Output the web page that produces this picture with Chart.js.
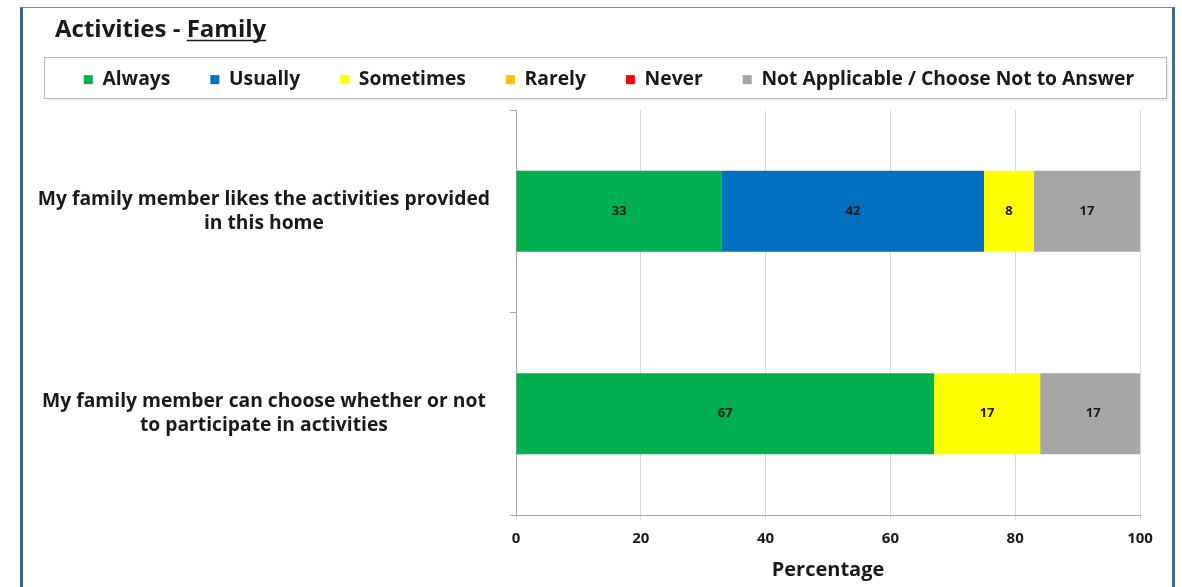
<!DOCTYPE html>
<html>
<head>
<meta charset="utf-8">
<script src="https://cdn.jsdelivr.net/npm/chart.js@4.4.1/dist/chart.umd.min.js"></script>
<style>
  html, body { margin: 0; padding: 0; background: #ffffff; }
  #wrap { position: relative; width: 1182px; height: 587px; overflow: hidden; }
  #c { position: absolute; left: 0; top: 0; }
  #frame { position: absolute; left: 20px; top: 7px; width: 1149px; height: 600px;
           border-left: 3px solid #3f5f8f; border-top: 1px solid #7088aa; border-right: 3px solid #4a6894;
           pointer-events: none; }
</style>
</head>
<body>
<div id="wrap">
  <canvas id="c" width="1182" height="587"></canvas>
  <div id="frame"></div>
</div>
<script>
// Survey statements (one bar each)
const categories = [
  ["My family member likes the activities provided", "in this home"],
  ["My family member can choose whether or not", "to participate in activities"]
];
// Response options, in stacking order
const seriesNames = ["Always", "Usually", "Sometimes", "Rarely", "Never", "Not Applicable / Choose Not to Answer"];
// Percentage of responses per statement
const always        = [33, 67];
const usually       = [42, 0];
const sometimes     = [8, 17];
const rarely        = [0, 0];
const never         = [0, 0];
const notApplicable = [17, 17];
const seriesColors  = ["#00b050", "#0070c0", "#ffff00", "#ffc000", "#ff0000", "#a6a6a6"];
// Axis ticks and titles
const xTicks = [0, 20, 40, 60, 80, 100];
const titleLead = "Activities - ";
const titleUnderlined = "Family";
const xTitle = "Percentage";

const FONT = "'Open Sans', Lato, sans-serif";
const INK = '#1a1a1a';
const seriesValues = [always, usually, sometimes, rarely, never, notApplicable];

// Title with underlined subject, plus the frame around the legend row
const headerPlugin = {
  id: 'header',
  beforeDraw(chart) {
    const ctx = chart.ctx;
    ctx.save();
    ctx.fillStyle = 'rgba(0,0,0,0.05)';
    ctx.fillRect(46, 59, 1123, 42);
    ctx.fillStyle = '#ffffff';
    ctx.fillRect(44, 57, 1123, 42);
    ctx.strokeStyle = '#b9b9b9';
    ctx.lineWidth = 1;
    ctx.strokeRect(44.5, 57.5, 1122, 41);
    ctx.restore();
  },
  afterDraw(chart) {
    const ctx = chart.ctx;
    ctx.save();
    ctx.font = `bold 24px ${FONT}`;
    ctx.fillStyle = INK;
    ctx.textBaseline = 'alphabetic';
    const x0 = 55, y0 = 37;
    ctx.fillText(titleLead, x0, y0);
    const w0 = ctx.measureText(titleLead).width;
    ctx.fillText(titleUnderlined, x0 + w0, y0);
    const w1 = ctx.measureText(titleUnderlined).width;
    ctx.strokeStyle = INK;
    ctx.lineWidth = 1.5;
    ctx.beginPath();
    ctx.moveTo(x0 + w0, y0 + 3.5);
    ctx.lineTo(x0 + w0 + w1, y0 + 3.5);
    ctx.stroke();
    ctx.restore();
  }
};

// Value printed in the middle of each segment
const valuePlugin = {
  id: 'segmentValues',
  afterDatasetsDraw(chart) {
    const ctx = chart.ctx;
    ctx.save();
    ctx.font = `bold 13px ${FONT}`;
    ctx.fillStyle = INK;
    ctx.textAlign = 'center';
    ctx.textBaseline = 'middle';
    chart.data.datasets.forEach((ds, i) => {
      const meta = chart.getDatasetMeta(i);
      meta.data.forEach((bar, j) => {
        const v = ds.data[j];
        if (!v) return;
        const p = bar.getCenterPoint();
        ctx.fillText(String(v), p.x, p.y);
      });
    });
    ctx.restore();
  }
};

// Legend: one row in a fixed band above the plot, centred on the legend frame
const LEGEND_CENTER = 609;
const legendBandPlugin = {
  id: 'legendBand',
  afterInit(chart) {
    const lg = chart.legend;
    const fit = lg.fit;
    lg.fit = function () {
      const mw = this.maxWidth;
      this.maxWidth = 4000;
      fit.call(this);
      this.maxWidth = mw;
      this.width = mw;
      this.height = 80;
    };
  },
  afterLayout(chart) {
    const lg = chart.legend;
    lg.left = LEGEND_CENTER - 700;
    lg.right = LEGEND_CENTER + 700;
    lg.width = 1400;
  }
};

const ctx = document.getElementById('c').getContext('2d');
new Chart(ctx, {
  type: 'bar',
  data: {
    labels: categories,
    datasets: seriesNames.map((name, i) => ({
      label: name,
      data: seriesValues[i],
      backgroundColor: seriesColors[i],
      borderWidth: 0,
      categoryPercentage: 0.4,
      barPercentage: 1.0
    }))
  },
  options: {
    indexAxis: 'y',
    responsive: false,
    animation: false,
    devicePixelRatio: 1,
    layout: { padding: { top: 30, left: 20, right: 42, bottom: 0 } },
    plugins: {
      title: { display: false },
      tooltip: { enabled: false },
      legend: {
        position: 'top',
        align: 'center',
        labels: {
          boxWidth: 9,
          boxHeight: 9,
          padding: 40,
          color: INK,
          font: { family: FONT, size: 19.3, weight: 'bold' }
        }
      }
    },
    scales: {
      x: {
        stacked: true,
        min: 0,
        max: 100,
        afterBuildTicks: s => { s.ticks = xTicks.map(v => ({ value: v })); },
        afterFit: s => { s.height = 72; },
        grid: { color: '#d9d9d9', lineWidth: 1, tickLength: 5, drawTicks: true },
        border: { display: true, color: '#a6a6a6' },
        ticks: { color: INK, padding: 10, font: { family: FONT, size: 15, weight: 'bold' } },
        title: { display: true, text: xTitle, color: INK, padding: { top: 4, bottom: 5 },
                 font: { family: FONT, size: 20, weight: 'bold' } }
      },
      y: {
        stacked: true,
        afterFit: s => { s.width = 496; },
        grid: { drawOnChartArea: false, drawTicks: true, tickLength: 6, color: '#a6a6a6' },
        border: { display: true, color: '#a6a6a6' },
        ticks: { color: INK, padding: 20, crossAlign: 'center',
                 font: { family: FONT, size: 19.3, weight: 'bold', lineHeight: 1.24 } }
      }
    }
  },
  plugins: [legendBandPlugin, headerPlugin, valuePlugin]
});
</script>
</body>
</html>
